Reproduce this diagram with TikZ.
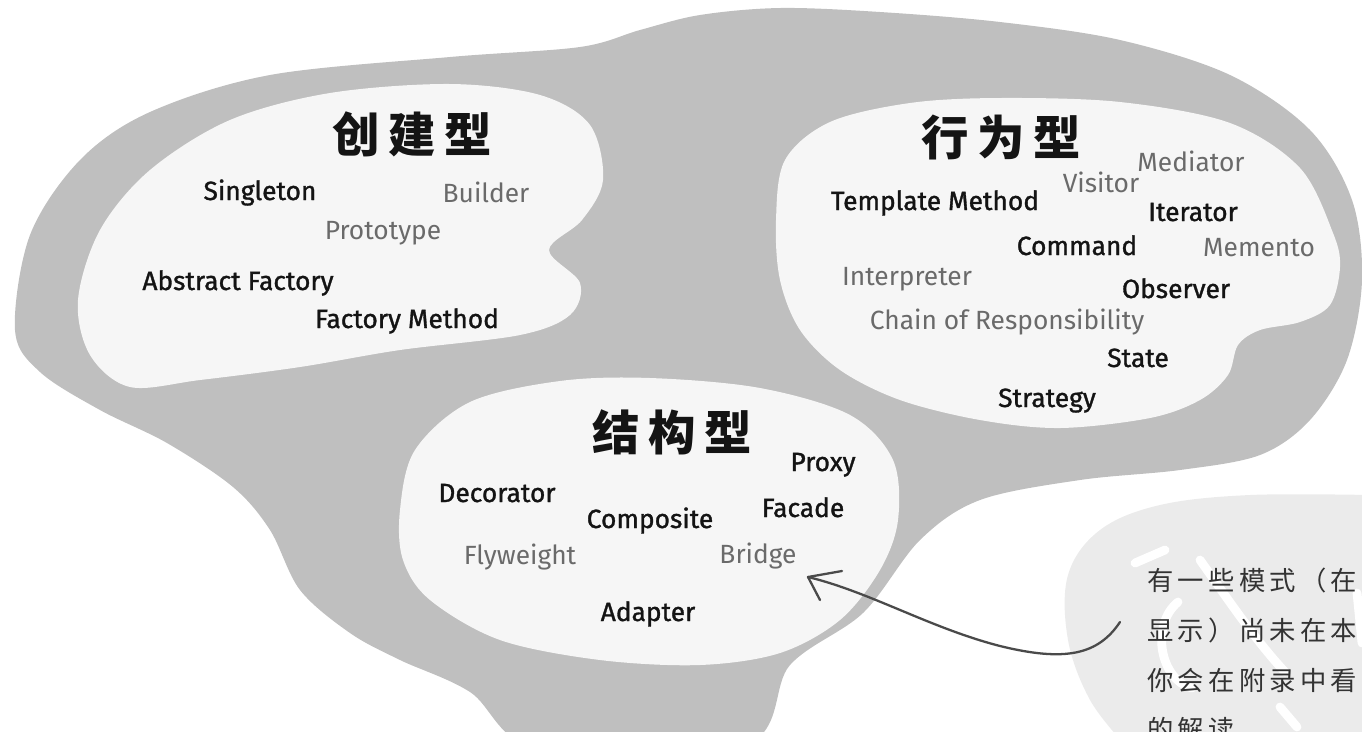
\documentclass[tikz,border=0pt]{standalone}
\usepackage{fontspec}
\setmainfont{Fira Sans}
\newfontfamily\blackfont[FakeBold=1.2]{Fira Sans}
\newfontfamily\cjk{Noto Sans CJK SC}
\newfontfamily\notefont[LetterSpace=16]{Noto Sans CJK SC}
\definecolor{outergrey}{HTML}{BFBFBF}
\definecolor{innerwhite}{HTML}{F6F6F6}
\definecolor{notegrey}{HTML}{EBEBEB}
\definecolor{greytext}{HTML}{6A6A6A}
\definecolor{blacktext}{HTML}{141414}
\definecolor{arrowgrey}{HTML}{4A4A4A}
\begin{document}
\begin{tikzpicture}[x=0.02cm,y=-0.02cm,
  word/.style={inner sep=0pt, anchor=base, font=\blackfont\fontsize{15}{17}\selectfont, text=blacktext},
  lightword/.style={inner sep=0pt, anchor=base, font=\fontsize{15}{17}\selectfont, text=greytext},
  title/.style={inner sep=0pt, font=\cjk\bfseries\fontsize{27}{30}\selectfont, text=blacktext},
  notetext/.style={inner sep=0pt, anchor=north west, align=left, font=\notefont\fontsize{15}{28.2}\selectfont, text=black!80},
  blob/.style={fill=innerwhite, draw=none},
  mark stroke/.style={white, line width=5pt, line cap=round},
  connector/.style={arrowgrey, line width=1.3pt, line cap=round},
]
\useasboundingbox (0,0) rectangle (1362,731);
\begin{scope}
\clip (0,0) rectangle (1362,731);
% outer grey region
\fill[outergrey] plot[smooth cycle, tension=0.55] coordinates {
 (15,330) (30,235) (80,160) (150,112) (270,75) (450,57) (580,47) (640,30) (700,15)
 (780,8) (880,12) (1000,22) (1120,40) (1230,75) (1310,130) (1352,200) (1362,280)
 (1347,360) (1310,420) (1260,455) (1180,470) (1080,480) (980,500) (920,540)
 (863,613) (790,665) (745,745) (540,750) (470,692) (400,660) (350,633) (300,590)
 (270,530) (233,487) (167,443) (100,410) (40,372)};
% creational blob
\fill[blob] plot[smooth cycle, tension=0.55] coordinates {
 (78,300) (100,230) (150,170) (230,120) (330,93) (450,84) (540,95) (590,125)
 (603,180) (582,220) (549,250) (580,283) (570,315) (520,335) (400,350) (300,367)
 (200,380) (130,387) (90,355)};
% behavioral blob
\fill[blob] plot[smooth cycle, tension=0.55] coordinates {
 (785,160) (830,122) (910,103) (1000,98) (1120,102) (1230,123) (1300,168)
 (1333,233) (1340,267) (1330,305) (1300,322) (1260,330) (1238,345) (1228,375)
 (1200,400) (1150,418) (1060,428) (980,420) (900,400) (840,370) (800,330)
 (780,280) (776,220)};
% structural blob
\fill[blob] plot[smooth cycle, tension=0.55] coordinates {
 (400,510) (415,450) (470,402) (560,381) (650,378) (760,388) (850,415) (893,460)
 (898,520) (880,570) (840,620) (780,653) (700,665) (600,660) (500,640) (430,600)
 (403,560)};
% note blob
\fill[notegrey] plot[smooth, tension=0.6] coordinates {
 (1370,495) (1250,495) (1160,505) (1100,530) (1068,575) (1068,640) (1090,700)
 (1125,745)} -- (1370,745) -- cycle;
% watermark strokes in the note blob
\draw[mark stroke] (1135,563) -- (1165,550);
\draw[mark stroke] (1178,602) .. controls (1150,625) and (1160,680) .. (1192,688);
\draw[mark stroke] (1200,560) .. controls (1225,595) and (1255,640) .. (1285,672);
\draw[mark stroke] (1280,707) -- (1297,727);
\draw[mark stroke] (1357,593) -- (1362,643);
% note text (cut off by the picture's right and bottom edges, as in the reference)
\node[notetext] (note) at (1147,568) {有一些模式（在\\显示）尚未在本\\你会在附录中看\\的解读};
% arrow from the note to the structural blob
\coordinate (tail) at (1120,622);
\coordinate (tip) at (808,577);
\draw[connector] (tail) .. controls (1098,655) and (1065,662) .. (1000,646)
  .. controls (930,628) and (870,592) .. (tip);
\draw[connector] (tip) -- ++(34,-6);
\draw[connector] (tip) -- ++(12,23);
\end{scope}
% titles
\node[title] (creational) at (412,134) {创\hspace{5pt}建\hspace{5pt}型};
\node[title] (behavioral) at (1001,137) {行\hspace{5pt}为\hspace{5pt}型};
\node[title] (structural) at (672,432) {结\hspace{5pt}构\hspace{5pt}型};
% creational
\node[word] (singleton) at (260,200) {Singleton};
\node[lightword] (builder) at (486,202) {Builder};
\node[lightword] (prototype) at (383,239) {Prototype};
\node[word] (absfactory) at (238,290) {Abstract Factory};
\node[word] (facmethod) at (407,328) {Factory Method};
% behavioral
\node[lightword] (mediator) at (1191,171) {Mediator};
\node[lightword] (visitor) at (1101,192) {Visitor};
\node[word] (template) at (935,210) {Template Method};
\node[word] (iterator) at (1193,221) {Iterator};
\node[word] (command) at (1077,255) {Command};
\node[lightword] (memento) at (1259,256) {Memento};
\node[lightword] (interpreter) at (907,285) {Interpreter};
\node[word] (observer) at (1176,298) {Observer};
\node[lightword] (chain) at (1007,329) {Chain of Responsibility};
\node[word] (state) at (1138,367) {State};
\node[word] (strategy) at (1047,407) {Strategy};
% structural
\node[word] (proxy) at (823,471) {Proxy};
\node[word] (decorator) at (497,502) {Decorator};
\node[word] (composite) at (650,528) {Composite};
\node[word] (facade) at (803,517) {Facade};
\node[lightword] (flyweight) at (520,564) {Flyweight};
\node[lightword] (bridge) at (758,563) {Bridge};
\node[word] (adapter) at (648,621) {Adapter};
\end{tikzpicture}
\end{document}
